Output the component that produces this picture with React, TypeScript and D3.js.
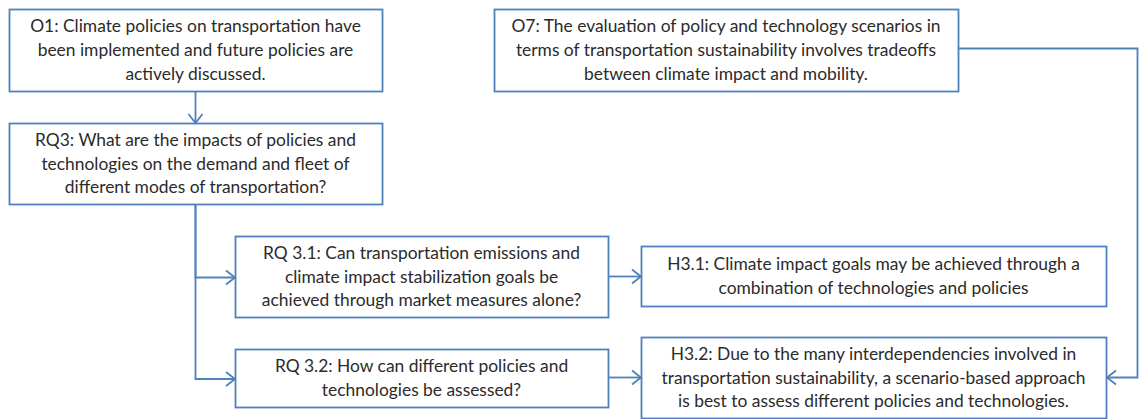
import React, { useRef, useEffect } from 'react';
import { select, line } from 'd3';

// node ids and their text, line by line
const nodeIds = ['O1', 'RQ3', 'O7', 'RQ31', 'RQ32', 'H31', 'H32'];
const nodeText = [
  ['O1: Climate policies on transportation have', 'been implemented and future policies are', 'actively discussed.'],
  ['RQ3: What are the impacts of policies and', 'technologies on the demand and fleet of', 'different modes of transportation?'],
  ['O7: The evaluation of policy and technology scenarios in', 'terms of transportation sustainability involves tradeoffs', 'between climate impact and mobility.'],
  ['RQ 3.1: Can transportation emissions and', 'climate impact stabilization goals be', 'achieved through market measures alone?'],
  ['RQ 3.2: How can different policies and', 'technologies be assessed?'],
  ['H3.1: Climate impact goals may be achieved through a', 'combination of technologies and policies'],
  ['H3.2: Due to the many interdependencies involved in', 'transportation sustainability, a scenario-based approach', 'is best to assess different policies and technologies.'],
];
const links = [
  ['O1', 'RQ3'],
  ['RQ3', 'RQ31'],
  ['RQ3', 'RQ32'],
  ['RQ31', 'H31'],
  ['RQ32', 'H32'],
  ['O7', 'H32'],
];

// layout (px)
const box = {
  O1: { x: 9, y: 9, w: 373, h: 82 },
  RQ3: { x: 9, y: 123, w: 373, h: 81 },
  O7: { x: 494, y: 9, w: 464, h: 82 },
  RQ31: { x: 235, y: 236, w: 373, h: 81 },
  RQ32: { x: 235, y: 349, w: 373, h: 58 },
  H31: { x: 641, y: 246, w: 465, h: 60 },
  H32: { x: 641, y: 337, w: 465, h: 81 },
};

const BLUE = '#4f81bd';
const TEXT = '#2b2b2b';
const LH = 23.6;

export default function App() {
  const svgRef = useRef<SVGSVGElement>(null);

  useEffect(() => {
    const svg = select(svgRef.current);
    svg.selectAll('*').remove();
    const g = svg.append('g');

    // boxes
    nodeIds.forEach((id, i) => {
      const b = box[id];
      g.append('rect')
        .attr('x', b.x + 0.5).attr('y', b.y + 0.5)
        .attr('width', b.w).attr('height', b.h)
        .attr('fill', '#fff').attr('stroke', BLUE).attr('stroke-width', 1.8);
      const lines = nodeText[i];
      const cy = b.y + b.h / 2;
      const y0 = cy - ((lines.length - 1) * LH) / 2;
      lines.forEach((t, k) => {
        g.append('text')
          .attr('x', b.x + b.w / 2)
          .attr('y', y0 + k * LH)
          .attr('dy', '0.35em')
          .attr('text-anchor', 'middle')
          .attr('font-family', 'Lato, "Open Sans", sans-serif')
          .attr('font-size', 17.4)
          .attr('fill', TEXT)
          .text(t);
      });
    });

    const path = line();
    const arrowHead = (x: number, y: number, dir: 'down' | 'right' | 'left') => {
      const L = 9, W = 7;
      let pts: [number, number][];
      if (dir === 'down') pts = [[x - W, y - L], [x, y], [x + W, y - L]];
      else if (dir === 'right') pts = [[x - L, y - W], [x, y], [x - L, y + W]];
      else pts = [[x + L, y - W], [x, y], [x + L, y + W]];
      g.append('path').attr('d', path(pts)).attr('fill', 'none')
        .attr('stroke', BLUE).attr('stroke-width', 1.8);
    };

    links.forEach(([s, t]) => {
      const a = box[s];
      const b = box[t];
      let pts: [number, number][] = [];
      let head: [number, number, 'down' | 'right' | 'left'];
      if (s === 'O1') {
        const x = 195.5;
        pts = [[x, a.y + a.h + 1], [x, b.y]];
        head = [x, b.y, 'down'];
      } else if (s === 'RQ3') {
        const x = 195.5;
        const y = b.y + b.h / 2 + 1;
        pts = [[x, a.y + a.h + 1], [x, y], [b.x, y]];
        head = [b.x, y, 'right'];
      } else if (s === 'O7') {
        const y = 48.5;
        const xr = 1137.5;
        const yt = 377.5;
        pts = [[a.x + a.w + 1, y], [xr, y], [xr, yt], [b.x + b.w + 1, yt]];
        head = [b.x + b.w + 1, yt, 'left'];
      } else {
        const y = s === 'RQ31' ? 276.5 : 377.5;
        pts = [[a.x + a.w + 1, y], [b.x, y]];
        head = [b.x, y, 'right'];
      }
      g.append('path').attr('d', path(pts)).attr('fill', 'none')
        .attr('stroke', BLUE).attr('stroke-width', 1.8);
      arrowHead(...head);
    });
  }, []);

  return (
    <svg
      ref={svgRef}
      width={1139}
      height={419}
      style={{ position: 'absolute', left: 0, top: 0, background: '#fff' }}
    />
  );
}
